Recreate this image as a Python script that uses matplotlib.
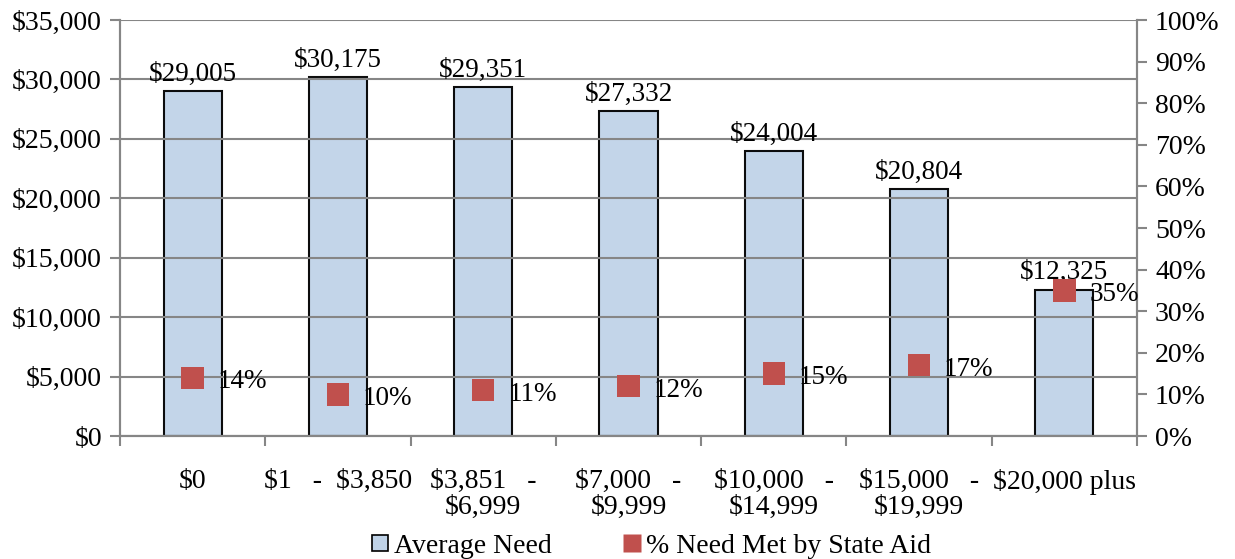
import matplotlib.pyplot as plt
import numpy as np
from matplotlib.lines import Line2D

# data
categories = ["$0", "$1   -  $3,850", "$3,851   -\n$6,999", "$7,000   -\n$9,999",
              "$10,000   -\n$14,999", "$15,000   -\n$19,999", "$20,000 plus"]
avg_need = [29005, 30175, 29351, 27332, 24004, 20804, 12325]
pct_met = [14, 10, 11, 12, 15, 17, 35]

plt.rcParams['font.family'] = ['Liberation Serif', 'DejaVu Serif']
plt.rcParams['font.size'] = 20
plt.rcParams['text.parse_math'] = False

bar_color = '#C0D3E8'
pt_color = '#C0504D'
grid_color = '#868686'

fig = plt.figure(figsize=(12.35, 5.59), dpi=100)
ax = fig.add_axes([120/1235, 1 - 436/559, (1137-120)/1235, (436-20)/559])
x = np.arange(len(categories))

ax.bar(x, avg_need, width=0.4, color=bar_color, edgecolor='black', linewidth=1.5, zorder=2, alpha=0.95)
for xi, v in zip(x, avg_need):
    ax.annotate(f"${v:,}", (xi, v), xytext=(0, 3), textcoords='offset points',
                ha='center', va='bottom', fontsize=19.5, zorder=5)

ax.set_xlim(-0.5, len(categories) - 0.5)
ax.set_ylim(0, 35000)
ax.set_yticks(np.arange(0, 35001, 5000))
ax.set_yticklabels([f"${int(t):,}" for t in np.arange(0, 35001, 5000)])
ax.yaxis.grid(True, color=grid_color, linewidth=1.5, zorder=3)
ax.set_axisbelow(False)
ax.set_xticks(np.arange(-0.5, len(categories), 1))
ax.set_xticklabels([])
ax.set_xticks(x, minor=True)
ax.set_xticklabels(categories, minor=True, linespacing=1.05)
ax.tick_params(axis='x', which='minor', length=0, pad=24)
ax.tick_params(axis='x', which='major', length=7, color=grid_color, width=1.5)
ax.tick_params(axis='y', length=7, color=grid_color, width=1.5, pad=6)
ax.spines['top'].set_visible(False)
for s in ['left', 'right', 'bottom']:
    ax.spines[s].set_color(grid_color)
    ax.spines[s].set_linewidth(1.5)

ax2 = ax.twinx()
ax2.scatter(x, pct_met, marker='s', s=260, color=pt_color, zorder=6, edgecolors='none')
for xi, p in zip(x, pct_met):
    ax2.annotate(f"{p}%", (xi, p), xytext=(18, -3), textcoords='offset points',
                 ha='left', va='center', fontsize=19.5, zorder=7)
ax2.set_ylim(0, 100)
ax2.set_yticks(np.arange(0, 101, 10))
ax2.set_yticklabels([f"{t}%" for t in range(0, 101, 10)])
ax2.tick_params(axis='y', length=7, color=grid_color, width=1.5, pad=6)
ax2.spines['top'].set_visible(False)
for s in ['left', 'right', 'bottom']:
    ax2.spines[s].set_color(grid_color)
    ax2.spines[s].set_linewidth(1.5)

handles = [
    Line2D([], [], marker='s', linestyle='none', markersize=12, markerfacecolor=bar_color,
           markeredgecolor='black', markeredgewidth=1.2, label='Average Need'),
    Line2D([], [], marker='s', linestyle='none', markersize=13, markerfacecolor=pt_color,
           markeredgecolor='none', label='% Need Met by State Aid'),
]
fig.legend(handles=handles, loc='lower center', bbox_to_anchor=(0.525, -0.045), ncol=2,
           frameon=False, handletextpad=0.0, columnspacing=2.4, handlelength=1.0,
           fontsize=20)

fig.savefig('out.png', dpi=100)
